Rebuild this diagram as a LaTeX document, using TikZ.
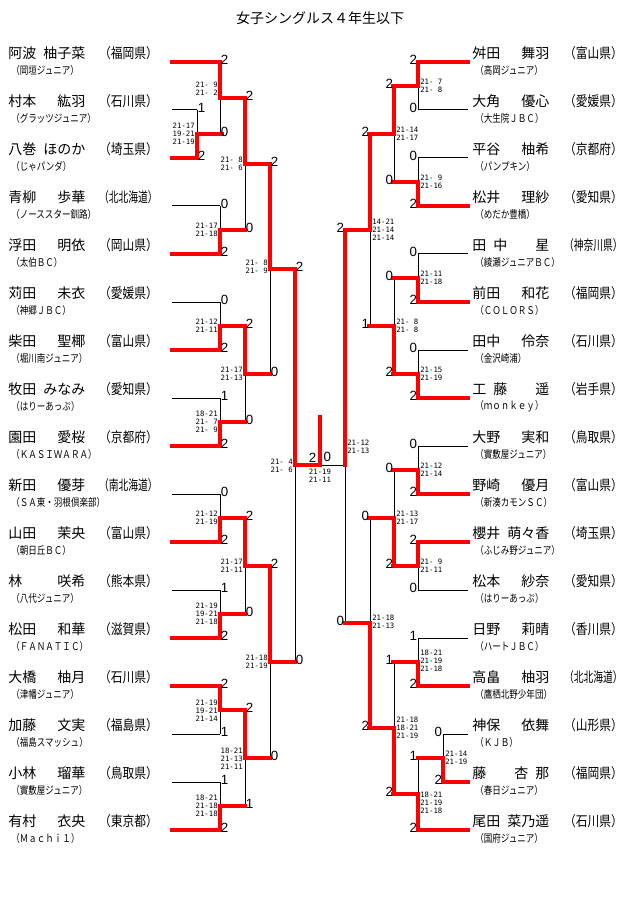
\documentclass[tikz,border=0pt]{standalone}
\usepackage{fontspec}
\setmainfont{Liberation Sans}
\newfontfamily\jp{Noto Sans CJK JP}
\newfontfamily\mono{DejaVu Sans Mono}
\usetikzlibrary{positioning,backgrounds}

\newcommand{\pname}[1]{\makebox[57.75pt][l]{#1}}
\newcommand{\pref}[1]{\resizebox{44pt}{\height}{（#1）}}
\newcommand{\club}[1]{\scalebox{0.8}[1]{（#1）}}

\tikzset{
  tie/.style={line width=0.75pt},
  won/.style={red,line width=2.3pt,line cap=rect},
  pnm/.style={inner sep=0pt,font=\jp\fontsize{10.5}{12}\selectfont},
  clb/.style={inner sep=0pt,font=\jp\fontsize{8}{9}\selectfont},
  scr/.style={inner sep=0.5pt,yshift=1.5pt,font=\fontsize{10}{10}\selectfont},
  gm/.style={inner sep=0pt,align=center,font=\mono\fontsize{5.5}{6}\selectfont},
}

\begin{document}
\begin{tikzpicture}[x=0.75pt,y=-0.75pt]
\useasboundingbox (0,0) rectangle (640,905);
\node[pnm] (title) at (320,18) {女子シングルス４年生以下};

\foreach \i/\nm/\pf/\cl/\e/\s in {
  1/{阿波\hfill 柚子菜}/福岡県/岡垣ジュニア/220/won,
  2/{村本\hfill 紘羽}/石川県/グラッツジュニア/197/tie,
  3/{八巻\hfill ほのか}/埼玉県/じゃパンダ/197/won,
  4/{青柳\hfill 歩華}/北北海道/ノーススター釧路/220/tie,
  5/{浮田\hfill 明依}/岡山県/太伯ＢＣ/220/won,
  6/{苅田\hfill 未衣}/愛媛県/神郷ＪＢＣ/220/tie,
  7/{柴田\hfill 聖椰}/富山県/堀川南ジュニア/220/won,
  8/{牧田\hfill みなみ}/愛知県/はりーあっぷ/220/tie,
  9/{園田\hfill 愛桜}/京都府/ＫＡＳＩＷＡＲＡ/220/won,
  10/{新田\hfill 優芽}/南北海道/ＳＡ東・羽根倶楽部/220/tie,
  11/{山田\hfill 茉央}/富山県/朝日丘ＢＣ/220/won,
  12/{林\hfill 咲希}/熊本県/八代ジュニア/220/tie,
  13/{松田\hfill 和華}/滋賀県/ＦＡＮＡＴＩＣ/220/won,
  14/{大橋\hfill 柚月}/石川県/津幡ジュニア/220/won,
  15/{加藤\hfill 文実}/福島県/福島スマッシュ/220/tie,
  16/{小林\hfill 瑠華}/鳥取県/實敷屋ジュニア/220/tie,
  17/{有村\hfill 衣央}/東京都/Ｍａｃｈｉ１/220/won}{
  \pgfmathsetmacro\y{62+48*(\i-1)}
  \node[pnm,anchor=west] (ln\i) at (8,\y-9) {\pname{\nm}};
  \node[pnm,anchor=east] (lf\i) at (158,\y-9) {\pref{\pf}};
  \node[clb,anchor=west] (lc\i) at (11,\y+8) {\club{\cl}};
  \coordinate (la\i) at (172,\y);
  \coordinate (lb\i) at (\e,\y);
  \draw[\s] (la\i) -- (lb\i);
}

\foreach \i/\nm/\pf/\cl/\e/\s in {
  1/{舛田\hfill 舞羽}/富山県/高岡ジュニア/418/won,
  2/{大角\hfill 優心}/愛媛県/大生院ＪＢＣ/418/tie,
  3/{平谷\hfill 柚希}/京都府/パンプキン/418/tie,
  4/{松井\hfill 理紗}/愛知県/めだか豊橋/418/won,
  5/{田\enspace 中\hfill 星}/神奈川県/綾瀬ジュニアＢＣ/418/tie,
  6/{前田\hfill 和花}/福岡県/ＣＯＬＯＲＳ/418/won,
  7/{田中\hfill 伶奈}/石川県/金沢崎浦/418/tie,
  8/{工\enspace 藤\hfill 遥}/岩手県/ｍｏｎｋｅｙ/418/won,
  9/{大野\hfill 実和}/鳥取県/實敷屋ジュニア/418/tie,
  10/{野崎\hfill 優月}/富山県/新湊カモンＳＣ/418/won,
  11/{櫻井\hfill 萌々香}/埼玉県/ふじみ野ジュニア/418/won,
  12/{松本\hfill 紗奈}/愛知県/はりーあっぷ/418/tie,
  13/{日野\hfill 莉晴}/香川県/ハートＪＢＣ/418/tie,
  14/{高畠\hfill 柚羽}/北北海道/鷹栖北野少年団/418/won,
  15/{神保\hfill 依舞}/山形県/ＫＪＢ/443/tie,
  16/{藤\hfill 杏\enspace 那}/福岡県/春日ジュニア/443/won,
  17/{尾田\hfill 菜乃遥}/石川県/国府ジュニア/418/won}{
  \pgfmathsetmacro\y{62+48*(\i-1)}
  \node[pnm,anchor=west] (rn\i) at (472,\y-9) {\pname{\nm}};
  \node[pnm,anchor=east] (rf\i) at (623,\y-9) {\pref{\pf}};
  \node[clb,anchor=west] (rc\i) at (475,\y+8) {\club{\cl}};
  \coordinate (ra\i) at (468,\y);
  \coordinate (rb\i) at (\e,\y);
  \draw[\s] (ra\i) -- (rb\i);
}

\foreach \n/\x/\ya/\yb/\ym/\w/\pa/\pb/\gy/\g in {
  La/197/110/158/134/b/1/2/134/{21-17\\19-21\\21-19},
  Lb/220/62/134/98/t/2/0/89/{21- 9\\21- 2},
  Lc/220/206/254/230/b/0/2/230/{21-17\\21-18},
  Ld/245/98/230/164/t/2/0/164/{21- 8\\21- 6},
  Le/220/302/350/326/b/0/2/326/{21-12\\21-11},
  Lf/220/398/446/422/b/1/2/422/{18-21\\21- 7\\21- 9},
  Lg/245/326/422/374/t/2/0/374/{21-17\\21-13},
  Lh/270/164/374/269/t/2/0/267/{21- 8\\21- 9},
  Li/220/494/542/518/b/0/2/518/{21-12\\21-19},
  Lj/220/590/638/614/b/1/2/614/{21-19\\19-21\\21-18},
  Lk/245/518/614/566/t/2/0/566/{21-17\\21-11},
  Ll/220/686/734/710/t/2/1/711/{21-19\\19-21\\21-14},
  Lm/220/782/830/806/b/1/2/806/{18-21\\21-18\\21-18},
  Ln/245/710/806/758/t/2/1/759/{18-21\\21-13\\21-11},
  Lo/270/566/758/662/t/2/0/662/{21-18\\21-19},
  Lp/295/269/662/465/t/2/0/466/{21- 4\\21- 6}}{
  \coordinate (\n-t) at (\x,\ya);
  \coordinate (\n-b) at (\x,\yb);
  \coordinate (\n-m) at (\x,\ym);
  \coordinate (\n-o) at (\x+25,\ym);
  \coordinate (\n-l) at (\x,\gy);
  \scoped[on background layer] \draw[tie] (\n-t) -- (\n-b);
  \draw[won] (\n-\w) -- (\n-m) -- (\n-o);
  \node[scr,right=0pt of \n-t] (\n-pa) {\pa};
  \node[scr,right=0pt of \n-b] (\n-pb) {\pb};
  \node[gm,left=1.5pt of \n-l] (\n-g) {\g};
}

\foreach \n/\x/\ya/\yb/\ym/\w/\pa/\pb/\gy/\g in {
  Ra/418/62/110/86/t/2/0/86/{21- 7\\21- 8},
  Rb/418/158/206/182/b/0/2/182/{21- 9\\21-16},
  Rc/394/86/182/134/t/2/0/134/{21-14\\21-17},
  Rd/418/254/302/278/b/0/2/278/{21-11\\21-18},
  Re/418/350/398/374/b/0/2/374/{21-15\\21-19},
  Rf/394/278/374/326/b/0/2/326/{21- 8\\21- 8},
  Rg/370/134/326/230/t/2/1/230/{14-21\\21-14\\21-14},
  Rh/418/446/494/470/b/0/2/470/{21-12\\21-14},
  Ri/418/542/590/566/t/2/0/566/{21- 9\\21-11},
  Rj/394/470/566/518/b/0/2/518/{21-13\\21-17},
  Rk/418/638/686/662/b/1/2/661/{18-21\\21-19\\21-18},
  Rl/443/734/782/758/b/0/2/758/{21-14\\21-19},
  Rm/418/758/830/794/b/1/2/803/{18-21\\21-19\\21-18},
  Rn/394/662/794/728/b/1/2/728/{21-18\\18-21\\21-19},
  Ro/370/518/728/623/b/0/2/622/{21-18\\21-13}}{
  \coordinate (\n-t) at (\x,\ya);
  \coordinate (\n-b) at (\x,\yb);
  \coordinate (\n-m) at (\x,\ym);
  \coordinate (\n-o) at (\x-25,\ym);
  \coordinate (\n-l) at (\x,\gy);
  \scoped[on background layer] \draw[tie] (\n-t) -- (\n-b);
  \draw[won] (\n-\w) -- (\n-m) -- (\n-o);
  \node[scr,left=0pt of \n-t] (\n-pa) {\pa};
  \node[scr,left=0pt of \n-b] (\n-pb) {\pb};
  \node[gm,right=1.5pt of \n-l] (\n-g) {\g};
}

\coordinate (Rp-t) at (345,230);
\coordinate (Rp-b) at (345,623);
\coordinate (Rp-m) at (345,465);
\coordinate (champ) at (320,417);
\scoped[on background layer] \draw[tie] (Rp-t) -- (Rp-b);
\draw[tie] (Rp-m) -- (Lp-o);
\draw[won] (Rp-t) -- (Rp-m);
\draw[won] (Lp-o) -- (champ);
\node[scr,left=0pt of Rp-t] (Rp-pa) {2};
\node[scr,left=0pt of Rp-b] (Rp-pb) {0};
\node[gm,anchor=west] (Rp-g) at (347,447) {21-12\\21-13};
\node[scr,above left=0pt and 2pt of Lp-o] (fin-pa) {2};
\node[scr,above right=0pt and 2pt of Lp-o] (fin-pb) {0};
\node[gm,below=3pt of Lp-o] (fin-g) {21-19\\21-11};
\end{tikzpicture}
\end{document}
